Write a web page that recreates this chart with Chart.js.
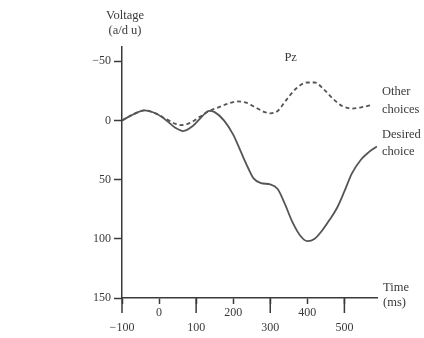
<!DOCTYPE html>
<html>
<head>
<meta charset="utf-8">
<script src="https://cdn.jsdelivr.net/npm/chart.js@4"></script>
<style>
html,body{margin:0;padding:0;background:#fff;}
#wrap{width:424px;height:338px;position:relative;}
</style>
</head>
<body>
<div id="wrap"><canvas id="c" width="424" height="338"></canvas></div>
<script>
// ---- data ----
const desiredTime  = [-100,-70,-40,-10,20,45,65,90,115,135,150,175,200,220,240,255,275,300,320,340,360,380,400,420,440,460,480,500,520,545,565,588];
const desiredVolt  = [0,-5,-8.5,-6,0,6.5,9,5,-3,-8,-7,0,12,26,40,49,53,54,58,71,86,97,102,100,93,84,74,60,45,33,27,22];
const otherTime    = [-100,-70,-40,-10,20,45,60,85,110,135,160,185,210,235,260,285,300,320,345,370,400,420,445,470,495,520,545,572];
const otherVolt    = [0,-5,-8.5,-6,-1,3,4,2,-3,-8,-11,-14,-16,-15,-11,-7,-6,-8,-18,-27,-32,-32,-26,-18,-12,-10,-11,-13];
const xTickValues  = [-100,0,100,200,300,400,500];
const yTickValues  = [-50,0,50,100,150];
const seriesNames  = ['Desired choice','Other choices'];

const FONT = '"Liberation Serif", "DejaVu Serif", serif';
const INK = '#3a3a3a';
const LINE = '#555';

const toXY = (ts, vs) => ts.map((t,i)=>({x:t,y:vs[i]}));

const decor = {
  id:'decor',
  afterDraw(chart){
    const ctx = chart.ctx;
    const xs = chart.scales.x, ys = chart.scales.y;
    const y0 = ys.getPixelForValue(150);
    ctx.save();
    ctx.strokeStyle = INK; ctx.lineWidth = 1.5;
    // long ticks for staggered labels
    [-100,100,300,500].forEach(v=>{
      const px = xs.getPixelForValue(v);
      ctx.beginPath(); ctx.moveTo(px, y0); ctx.lineTo(px, y0+15); ctx.stroke();
    });
    ctx.fillStyle = INK;
    ctx.font = '12.5px ' + FONT;
    ctx.textBaseline = 'middle';
    ctx.textAlign = 'center';
    const left = chart.chartArea.left;
    ctx.fillText('Voltage', left+3, 16);
    ctx.fillText('(a/d u)', left+3, 31);
    ctx.fillText('Pz', xs.getPixelForValue(355), 58);
    ctx.textAlign = 'left';
    const right = chart.chartArea.right;
    ctx.fillText('Other', right+5, 92);
    ctx.fillText('choices', right+5, 110);
    ctx.fillText('Desired', right+5, 135);
    ctx.fillText('choice', right+5, 152);
    ctx.fillText('Time', right+6, 288);
    ctx.fillText('(ms)', right+6, 303);
    ctx.restore();
  }
};

new Chart(document.getElementById('c'), {
  type:'line',
  data:{
    datasets:[
      {label:seriesNames[0], data:toXY(desiredTime,desiredVolt), borderColor:LINE, borderWidth:1.8,
       pointRadius:0, cubicInterpolationMode:'monotone', fill:false},
      {label:seriesNames[1], data:toXY(otherTime,otherVolt), borderColor:LINE, borderWidth:1.8,
       borderDash:[4,3], pointRadius:0, cubicInterpolationMode:'monotone', fill:false}
    ]
  },
  plugins:[decor],
  options:{
    responsive:false, animation:false,
    layout:{padding:{top:47,right:47,left:0,bottom:0}},
    plugins:{legend:{display:false}, tooltip:{enabled:false}},
    scales:{
      x:{
        type:'linear', min:-100, max:588,
        afterBuildTicks:s=>{ s.ticks = xTickValues.map(v=>({value:v})); },
        afterFit:s=>{ s.height = 40; },
        border:{display:true, color:INK, width:1.5},
        grid:{display:true, drawOnChartArea:false, drawTicks:true, tickLength:6, tickColor:INK, tickWidth:1.5, color:INK},
        ticks:{
          color:INK, padding:2, maxRotation:0, autoSkip:false,
          font:{family:FONT, size:12},
          callback:(v)=>{ const s = v<0 ? '\u2212'+Math.abs(v) : String(v); return ([-100,100,300,500].includes(v)) ? ['', s] : s; }
        }
      },
      y:{
        type:'linear', reverse:true, min:-62, max:150,
        afterBuildTicks:s=>{ s.ticks = yTickValues.map(v=>({value:v})); },
        afterFit:s=>{ s.width = 122; },
        border:{display:true, color:INK, width:1.5},
        grid:{display:true, drawOnChartArea:false, drawTicks:true, tickLength:8, tickColor:INK, tickWidth:1.5, color:INK},
        ticks:{
          color:INK, padding:3, autoSkip:false,
          font:{family:FONT, size:12},
          callback:(v)=> v<0 ? '\u2212'+Math.abs(v) : String(v)
        }
      }
    }
  }
});
</script>
</body>
</html>
